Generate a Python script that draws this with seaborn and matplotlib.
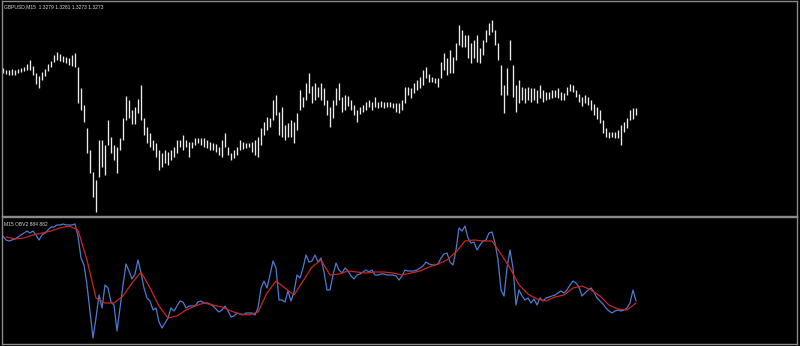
import matplotlib
matplotlib.use("Agg")
import matplotlib.pyplot as plt
import numpy as np
import pandas as pd
import seaborn as sns

# ---------------- data ----------------
symbol_title = "GBPUSD,M15  1.3279 1.3281 1.3273 1.3273"
indicator_title = "M15 OBV2 884 882"

bar_high = [
    1.32960, 1.32950, 1.32950, 1.32955, 1.32950, 1.32955, 1.32960, 1.32965, 1.32980, 1.33000,
    1.32970, 1.32935, 1.32920, 1.32940, 1.32955, 1.32980, 1.32995, 1.33025, 1.33040, 1.33030,
    1.33020, 1.33015, 1.33010, 1.33025, 1.33035, 1.32965, 1.32860, 1.32775, 1.32660, 1.32550,
    1.32440, 1.32400, 1.32600, 1.32600, 1.32575, 1.32700, 1.32615, 1.32575, 1.32565, 1.32610,
    1.32710, 1.32820, 1.32800, 1.32750, 1.32765, 1.32805, 1.32875, 1.32710, 1.32665, 1.32635,
    1.32600, 1.32585, 1.32550, 1.32535, 1.32550, 1.32540, 1.32550, 1.32565, 1.32600, 1.32600,
    1.32625, 1.32600, 1.32590, 1.32590, 1.32610, 1.32610, 1.32610, 1.32610, 1.32600, 1.32590,
    1.32585, 1.32580, 1.32565, 1.32600, 1.32635, 1.32565, 1.32535, 1.32550, 1.32565, 1.32600,
    1.32590, 1.32585, 1.32585, 1.32590, 1.32600, 1.32615, 1.32660, 1.32690, 1.32715, 1.32710,
    1.32800, 1.32825, 1.32740, 1.32765, 1.32675, 1.32685, 1.32700, 1.32690, 1.32735, 1.32850,
    1.32815, 1.32885, 1.32935, 1.32870, 1.32885, 1.32865, 1.32885, 1.32860, 1.32800, 1.32765,
    1.32800, 1.32860, 1.32885, 1.32815, 1.32825, 1.32820, 1.32800, 1.32775, 1.32750, 1.32765,
    1.32775, 1.32790, 1.32800, 1.32790, 1.32815, 1.32790, 1.32795, 1.32790, 1.32790, 1.32790,
    1.32785, 1.32785, 1.32785, 1.32800, 1.32865, 1.32865, 1.32860, 1.32885, 1.32900, 1.32915,
    1.32950, 1.32965, 1.32930, 1.32915, 1.32910, 1.32910, 1.32990, 1.33035, 1.33010, 1.33050,
    1.33015, 1.33085, 1.33175, 1.33150, 1.33125, 1.33125, 1.33085, 1.33100, 1.33125, 1.33060,
    1.33100, 1.33150, 1.33185, 1.33200, 1.33150, 1.33085, 1.32975, 1.32875, 1.32960, 1.33100,
    1.32975, 1.32875, 1.32900, 1.32865, 1.32860, 1.32865, 1.32860, 1.32860, 1.32850, 1.32875,
    1.32850, 1.32840, 1.32840, 1.32850, 1.32850, 1.32860, 1.32840, 1.32835, 1.32865, 1.32880,
    1.32875, 1.32850, 1.32830, 1.32815, 1.32825, 1.32815, 1.32800, 1.32780, 1.32765, 1.32750,
    1.32700, 1.32660, 1.32640, 1.32640, 1.32640, 1.32650, 1.32675, 1.32690, 1.32710, 1.32750,
    1.32760, 1.32760,
]

bar_low = [
    1.32935, 1.32930, 1.32925, 1.32925, 1.32925, 1.32935, 1.32940, 1.32945, 1.32950, 1.32950,
    1.32925, 1.32880, 1.32860, 1.32900, 1.32920, 1.32945, 1.32965, 1.32990, 1.33000, 1.32995,
    1.32990, 1.32985, 1.32975, 1.32970, 1.32965, 1.32785, 1.32750, 1.32690, 1.32535, 1.32435,
    1.32315, 1.32240, 1.32415, 1.32465, 1.32425, 1.32575, 1.32535, 1.32500, 1.32435, 1.32550,
    1.32600, 1.32700, 1.32710, 1.32680, 1.32680, 1.32735, 1.32700, 1.32625, 1.32585, 1.32565,
    1.32550, 1.32515, 1.32450, 1.32465, 1.32485, 1.32475, 1.32500, 1.32515, 1.32535, 1.32565,
    1.32550, 1.32565, 1.32515, 1.32560, 1.32575, 1.32585, 1.32575, 1.32565, 1.32560, 1.32550,
    1.32550, 1.32540, 1.32525, 1.32515, 1.32565, 1.32525, 1.32500, 1.32510, 1.32525, 1.32550,
    1.32555, 1.32560, 1.32565, 1.32540, 1.32525, 1.32515, 1.32575, 1.32625, 1.32650, 1.32665,
    1.32700, 1.32725, 1.32625, 1.32615, 1.32600, 1.32615, 1.32615, 1.32585, 1.32650, 1.32750,
    1.32765, 1.32800, 1.32835, 1.32785, 1.32800, 1.32815, 1.32800, 1.32775, 1.32725, 1.32665,
    1.32710, 1.32775, 1.32800, 1.32740, 1.32750, 1.32770, 1.32750, 1.32725, 1.32690, 1.32730,
    1.32740, 1.32750, 1.32765, 1.32750, 1.32765, 1.32760, 1.32765, 1.32760, 1.32765, 1.32765,
    1.32760, 1.32740, 1.32735, 1.32750, 1.32785, 1.32825, 1.32810, 1.32835, 1.32850, 1.32860,
    1.32875, 1.32910, 1.32890, 1.32890, 1.32885, 1.32865, 1.32910, 1.32950, 1.32925, 1.32935,
    1.32935, 1.33000, 1.33075, 1.33065, 1.33065, 1.33010, 1.32985, 1.33010, 1.32990, 1.32985,
    1.33025, 1.33090, 1.33125, 1.33140, 1.33075, 1.33000, 1.32825, 1.32735, 1.32825, 1.33000,
    1.32815, 1.32740, 1.32785, 1.32800, 1.32785, 1.32800, 1.32790, 1.32800, 1.32785, 1.32810,
    1.32790, 1.32800, 1.32805, 1.32810, 1.32815, 1.32810, 1.32800, 1.32800, 1.32825, 1.32845,
    1.32840, 1.32815, 1.32790, 1.32770, 1.32785, 1.32775, 1.32750, 1.32725, 1.32705, 1.32685,
    1.32635, 1.32615, 1.32610, 1.32615, 1.32610, 1.32610, 1.32575, 1.32640, 1.32660, 1.32700,
    1.32705, 1.32725,
]

obv_values = [
    949, 945, 944, 945, 946, 948, 950, 952, 954, 952,
    954, 950, 945, 950, 952, 955, 958, 958, 960, 960,
    961, 960, 960, 960, 961, 949, 927, 920, 900, 873,
    847, 867, 890, 877, 900, 897, 883, 880, 854, 877,
    900, 921, 914, 906, 911, 925, 912, 897, 887, 884,
    875, 877, 863, 857, 862, 867, 877, 874, 879, 884,
    883, 877, 879, 879, 879, 883, 884, 882, 882, 881,
    879, 876, 873, 875, 879, 874, 868, 869, 872, 871,
    870, 872, 872, 872, 870, 877, 897, 904, 897, 910,
    924, 917, 885, 885, 883, 894, 884, 893, 910, 907,
    917, 930, 923, 924, 930, 923, 927, 913, 895, 895,
    910, 922, 915, 912, 917, 914, 909, 906, 910, 911,
    913, 915, 913, 915, 910, 910, 911, 911, 910, 910,
    910, 909, 905, 909, 915, 914, 914, 914, 915, 917,
    919, 923, 921, 920, 920, 921, 927, 931, 932, 923,
    920, 935, 957, 954, 959, 947, 942, 943, 935, 940,
    944, 945, 952, 953, 942, 925, 895, 889, 917, 935,
    917, 880, 895, 889, 885, 887, 882, 886, 880, 887,
    884, 887, 888, 889, 890, 892, 894, 892, 895, 900,
    904, 902, 898, 889, 892, 895, 897, 893, 887, 884,
    881, 877, 874, 872, 874, 875, 874, 875, 877, 882,
    895, 884,
]

# moving average of OBV, read every third bar (bars 1, 4, 7, ...)
obv_ma_values = [
    948, 946, 947, 950, 952, 954, 957, 959, 955, 925,
    887, 882, 882, 889, 902, 913, 897, 879, 867, 869,
    875, 879, 882, 880, 878, 874, 871, 870, 873, 892,
    904, 897, 890, 904, 918, 925, 910, 911, 914, 913,
    912, 913, 913, 912, 910, 912, 914, 918, 921, 925,
    933, 944, 945, 944, 944, 931, 917, 900, 891, 886,
    884, 888, 890, 897, 899, 895, 889, 880, 876, 875,
    882,
]
ma_first_bar = 1
ma_bar_step = 3

assert len(bar_high) == len(bar_low) == len(obv_values)

bar_idx = np.arange(len(bar_high))
ma_idx = np.arange(ma_first_bar, len(bar_high), ma_bar_step)
assert len(ma_idx) == len(obv_ma_values)

price_df = pd.DataFrame({"bar": bar_idx, "high": bar_high, "low": bar_low})
obv_df = pd.DataFrame({"bar": bar_idx, "obv": obv_values})
ma_df = pd.DataFrame({"bar": ma_idx, "ma": obv_ma_values})

# ---------------- style ----------------
sns.set_theme(style="dark")
plt.rcParams["font.family"] = ["Liberation Sans Narrow", "Liberation Sans", "DejaVu Sans"]

W, H = 800, 346
BG = "black"
FRAME = "#8a8a8a"
TXT = "#d6d6d6"

fig = plt.figure(figsize=(W / 100, H / 100), dpi=100, facecolor=BG)

# top panel: pixel rows 1..216, bottom panel: 217..344, columns 2..797
ax1 = fig.add_axes([2 / W, 1 - 216 / H, 795 / W, 215 / H])
ax2 = fig.add_axes([2 / W, 2 / H, 795 / W, 127 / H])

for ax in (ax1, ax2):
    ax.set_facecolor(BG)
    ax.grid(False)
    for sp in ax.spines.values():
        sp.set_visible(True)
        sp.set_color(FRAME)
        sp.set_linewidth(1.0)

# price bars
ax1.vlines(price_df["bar"], price_df["low"], price_df["high"],
           colors="#ececec", linewidth=0.95)
ax1.set_ylim(1.3222, 1.33295)

# OBV panel
sns.lineplot(data=obv_df, x="bar", y="obv", ax=ax2, color="#4d7bd0",
             linewidth=0.9, estimator=None)
sns.lineplot(data=ma_df, x="bar", y="ma", ax=ax2, color="#c8281e",
             linewidth=0.9, estimator=None)
ax2.set_ylim(841, 968)

for ax in (ax1, ax2):
    ax.set_xlim(-1 / 3, 794 / 3)
    ax.set_xticks([])
    ax.set_yticks([])
    ax.set_xlabel("")
    ax.set_ylabel("")

fig.text(4 / W, 1 - 7 / H, symbol_title, ha="left", va="center",
         fontsize=3.6, color=TXT)
fig.text(4 / W, 1 - 225 / H, indicator_title, ha="left", va="center",
         fontsize=3.6, color=TXT)

fig.savefig("out.png", dpi=100, facecolor=BG)
